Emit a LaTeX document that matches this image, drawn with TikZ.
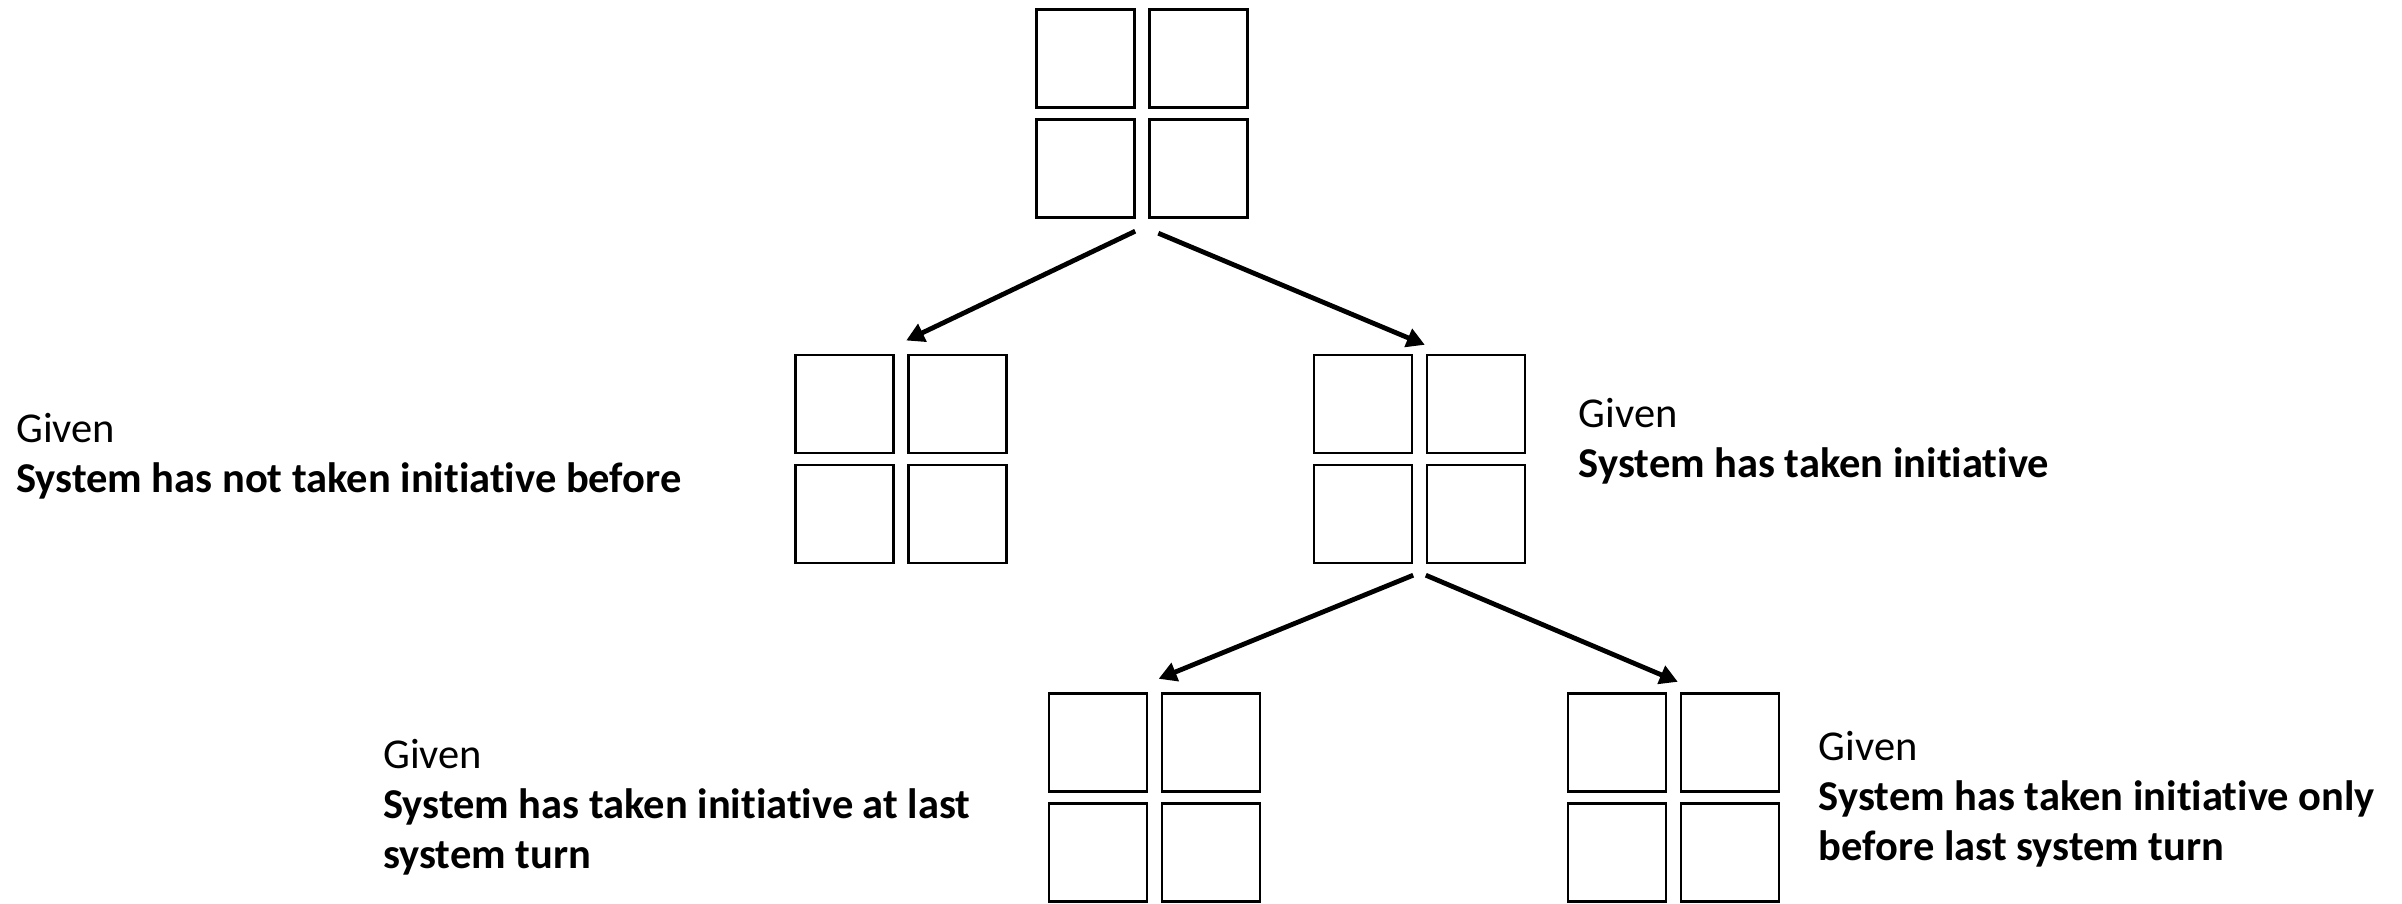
\documentclass[tikz,border=0pt]{standalone}
\usepackage{fontspec}
\setmainfont{Carlito}[Ligatures=NoCommon]
\usetikzlibrary{arrows.meta}
\tikzset{
  sq/.style={draw=black, line width=2.4pt, minimum width=98pt, minimum height=98pt, inner sep=0pt, fill=white},
  conn/.style={line width=4.8pt, -{Triangle[length=18pt,width=19pt]}},
  lbl/.style={anchor=base west, inner sep=0pt, align=left, font=\fontsize{42.5}{50}\selectfont}
}
\begin{document}
\begin{tikzpicture}[x=1pt,y=-1pt]
\useasboundingbox (0,0) rectangle (2402,903);
% top grid
\node[sq] (t1) at (1085.5,58.5) {};
\node[sq] (t2) at (1198.5,58.5) {};
\node[sq] (t3) at (1085.5,168.5) {};
\node[sq] (t4) at (1198.5,168.5) {};
% middle left grid
\node[sq] (m1) at (844.3,404) {};
\node[sq] (m2) at (957.3,404) {};
\node[sq] (m3) at (844.3,514) {};
\node[sq] (m4) at (957.3,514) {};
% middle right grid
\node[sq] (r1) at (1363,404) {};
\node[sq] (r2) at (1476,404) {};
\node[sq] (r3) at (1363,514) {};
\node[sq] (r4) at (1476,514) {};
% bottom left grid
\node[sq] (b1) at (1097.8,742.5) {};
\node[sq] (b2) at (1210.8,742.5) {};
\node[sq] (b3) at (1097.8,852.5) {};
\node[sq] (b4) at (1210.8,852.5) {};
% bottom right grid
\node[sq] (c1) at (1617,742.5) {};
\node[sq] (c2) at (1730,742.5) {};
\node[sq] (c3) at (1617,852.5) {};
\node[sq] (c4) at (1730,852.5) {};
% connectors
\draw[conn] ([shift={(-0.5,12.5)}]t3.south east) -- ([shift={(11.7,-13.3)}]m1.north east);
\draw[conn] ([shift={(10,14.5)}]t4.south west) -- ([shift={(-1,-9)}]r2.north west);
\draw[conn] ([shift={(0,11)}]r3.south east) -- ([shift={(-2,-13.5)}]b2.north west);
\draw[conn] ([shift={(0,11)}]r4.south west) -- ([shift={(-2,-10.5)}]c2.north west);
% labels (anchor: baseline of last line)
\node[lbl] (l1) at (16,492.7) {Given\\\textbf{System has not taken initiative before}};
\node[lbl] (l2) at (1578.7,477.3) {Given\\\textbf{System has taken initiative}};
\node[lbl] (l3) at (383,868.3) {Given\\\textbf{System has taken initiative at last}\\\textbf{system turn}};
\node[lbl] (l4) at (1818.7,860.7) {Given\\\textbf{System has taken initiative only}\\\textbf{before last system turn}};
\end{tikzpicture}
\end{document}
